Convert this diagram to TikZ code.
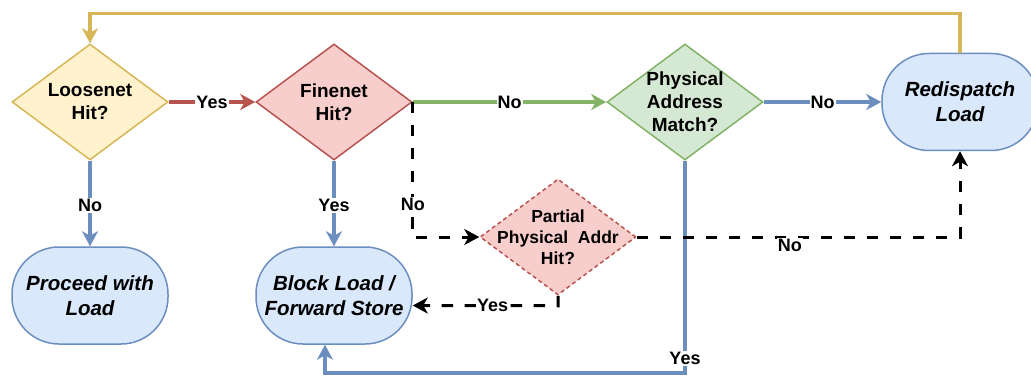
\documentclass[tikz,border=0pt]{standalone}
\usepackage{fontspec}
\setmainfont{Liberation Sans}
\usetikzlibrary{shapes.geometric,arrows.meta}
\definecolor{ylwF}{HTML}{FFF2CC}\definecolor{ylwD}{HTML}{D6B656}
\definecolor{redF}{HTML}{F8CECC}\definecolor{redD}{HTML}{B85450}
\definecolor{grnF}{HTML}{D5E8D4}\definecolor{grnD}{HTML}{82B366}
\definecolor{bluF}{HTML}{DAE8FC}\definecolor{bluD}{HTML}{6C8EBF}
\tikzset{
  dec/.style={diamond, draw, line width=1.5pt, aspect=1.345,
    minimum width=156pt, minimum height=116pt, inner sep=-15pt,
    align=center, font=\fontsize{19}{23}\selectfont\bfseries},
  term/.style={rectangle, rounded corners=47pt, draw=bluD, fill=bluF,
    line width=1.5pt, minimum width=156pt, minimum height=97pt,
    align=center, font=\fontsize{20.5}{25}\selectfont\bfseries\itshape},
  conn/.style={line width=3.5pt, -{Stealth[length=15pt,width=16pt,inset=4.5pt]}},
  dsh/.style={conn, black, line width=3pt, dash pattern=on 11.5pt off 11.5pt},
  lbl/.style={fill=white, inner sep=1pt, text=black,
    font=\fontsize{18}{20}\selectfont\bfseries},
}
\begin{document}
\begin{tikzpicture}[x=1pt,y=-1pt]
\useasboundingbox (0,0) rectangle (1031,377);

% decisions
\node[dec, draw=ylwD, fill=ylwF] (loose) at (90,102) {Loosenet\\Hit?};
\node[dec, draw=redD, fill=redF] (fine) at (334,102) {Finenet\\Hit?};
\node[dec, draw=grnD, fill=grnF] (phys) at (685,102) {Physical\\Address\\Match?};
\node[dec, draw=redD, fill=redF, dash pattern=on 4pt off 3pt,
      font=\fontsize{17.5}{21}\selectfont\bfseries] (part) at (558,237)
      {Partial\\Physical\ \ Addr\\Hit?};

% outcomes
\node[term] (redis) at (960,102) {Redispatch\\Load};
\node[term] (proc) at (90,295.5) {Proceed with\\Load};
\node[term] (block) at (334,295.5) {Block Load /\\Forward Store};

% solid connectors
\draw[conn, redD] (loose.east) -- node[lbl]{Yes} (fine.west);
\draw[conn, grnD] (fine.east) -- node[lbl]{No} (phys.west);
\draw[conn, bluD] (phys.east) -- node[lbl]{No} (redis.west);
\draw[conn, bluD] (loose.south) -- node[lbl, yshift=-2pt]{No} (proc.north);
\draw[conn, bluD] (fine.south) -- node[lbl, yshift=-2pt]{Yes} (block.north);
\draw[conn, ylwD] (redis.north) -- ++(0,-39) -| (loose.north);
\draw[conn, bluD] (phys.south) -- node[lbl, pos=0.934]{Yes} ++(0,212)
  -| ([xshift=-9pt]block.south);

% dashed connectors
\draw[dsh] (fine.east) |- node[lbl, pos=0.38]{No} (part.west);
\draw[dsh] (part.south) -- ++(0,10) -- node[lbl, pos=0.45]{Yes}
  ([yshift=-10pt]block.east);
\draw[dsh] (part.east) -| node[lbl, pos=0.237, yshift=-8pt]{No} (redis.south);
\end{tikzpicture}
\end{document}
